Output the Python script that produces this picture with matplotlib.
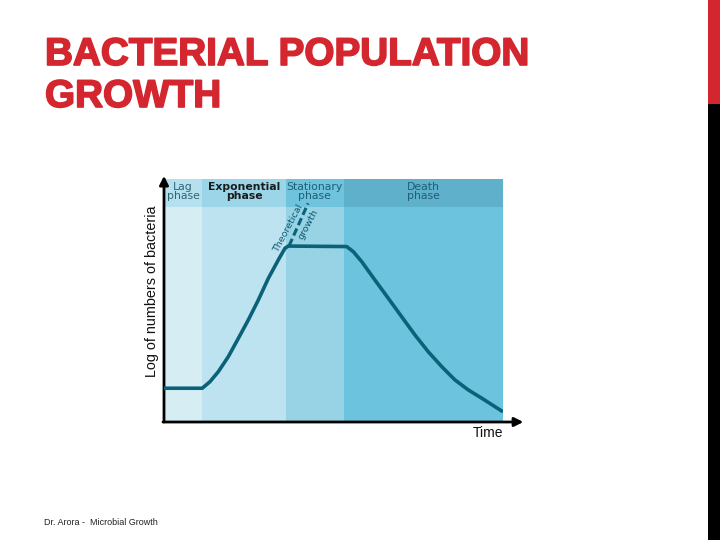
import matplotlib
matplotlib.use("Agg")
import matplotlib.pyplot as plt
import matplotlib.patheffects as pe
import numpy as np

# ---- data ----
phase_names = ["Lag\nphase", "Exponential\nphase", "Stationary\nphase", "Death\nphase"]
phase_edges = [0.0, 11.3, 35.9, 53.1, 100.0]
body_colors = ["#d6edf4", "#bde3f0", "#97d2e5", "#6cc3dd"]
head_colors = ["#b7e0ee", "#9dd5e8", "#6fc3dd", "#5eb0cb"]
header_bottom = 8.85
y_top = 10.0

time = [0.0, 11.3, 13.57, 16.02, 18.97, 21.92, 24.87, 27.82, 30.77, 33.72, 35.69, 36.67,
        53.89, 55.84, 58.32, 62.24, 66.17, 70.12, 74.04, 77.96, 81.92, 85.84, 89.76,
        93.72, 97.64, 100.0]
log_n = [1.39, 1.39, 1.66, 2.07, 2.69, 3.44, 4.20, 5.02, 5.91, 6.67, 7.15, 7.24,
         7.22, 7.01, 6.60, 5.84, 5.09, 4.33, 3.58, 2.89, 2.28, 1.73, 1.32,
         0.98, 0.63, 0.42]
theory_t = [36.9, 42.5]
theory_y = [7.25, 9.0]

W, H = 720, 540
fig = plt.figure(figsize=(7.2, 5.4), dpi=100)
fig.patch.set_facecolor("white")

# right decorative bar
bar_ax = fig.add_axes([708 / W, 0, 12 / W, 1])
bar_ax.set_xlim(0, 1); bar_ax.set_ylim(0, 1)
bar_ax.axis("off")
bar_ax.bar([0], [104 / H], bottom=1 - 104 / H, width=1, align="edge", color="#d3262e")
bar_ax.bar([0], [1 - 104 / H], bottom=0, width=1, align="edge", color="#000000")

# title
title_color = "#d3262e"
title_lines = ["BACTERIAL POPULATION", "GROWTH"]
heavy = [pe.withStroke(linewidth=1.2, foreground=title_color)]
fs = 27.5
t1 = fig.text(45 / W, 1 - 65 / H, title_lines[0], fontsize=fs, fontweight="bold",
              family="Liberation Sans", color=title_color, va="baseline", ha="left",
              path_effects=heavy)
fig.canvas.draw()
w = t1.get_window_extent().width
fs = fs * 484 / w
t1.set_fontsize(fs)
fig.text(45 / W, 1 - 107 / H, title_lines[1], fontsize=fs, fontweight="bold",
         family="Liberation Sans", color=title_color, va="baseline", ha="left",
         path_effects=heavy)

# footer
fig.text(44 / W, 1 - 525 / H, "Dr. Arora -  Microbial Growth", fontsize=6.5,
         family="Liberation Sans", color="#222222", va="baseline", ha="left")

# main chart
ax = fig.add_axes([164 / W, (H - 422) / H, 339 / W, 243 / H])
ax.set_xlim(0, 100)
ax.set_ylim(0, 10)
for s in ax.spines.values():
    s.set_visible(False)
ax.set_xticks([]); ax.set_yticks([])
ax.patch.set_alpha(0)

lefts = phase_edges[:-1]
widths = np.diff(phase_edges)
ax.bar(lefts, [header_bottom] * 4, width=widths, align="edge", color=body_colors, lw=0)
ax.bar(lefts, [y_top - header_bottom] * 4, bottom=header_bottom, width=widths,
       align="edge", color=head_colors, lw=0)

label_colors = ["#2b6478", "#1a1a1a", "#1f5e74", "#1f5e74"]
weights = ["normal", "bold", "normal", "normal"]
for i, name in enumerate(phase_names):
    cx = (phase_edges[i] + phase_edges[i + 1]) / 2
    ax.text(cx, (header_bottom + y_top) / 2 + 0.05, name, ha="center", va="center",
            fontsize=7.8, family="DejaVu Sans", color=label_colors[i],
            fontweight=weights[i], linespacing=0.85)

ax.plot(time, log_n, color="#0b6278", lw=2.6, solid_joinstyle="round",
        solid_capstyle="butt", zorder=5)
ax.plot(theory_t, theory_y, color="#0b6278", lw=2.2, ls=(0, (2.5, 1.2)), zorder=5)
ax.text(36.8, 7.95, "Theoretical", rotation=62, fontsize=6.8, color="#0b5a70",
        ha="center", va="center", family="DejaVu Sans", rotation_mode="anchor")
ax.text(42.6, 8.15, "growth", rotation=62, fontsize=6.8, color="#0b5a70",
        ha="center", va="center", family="DejaVu Sans", rotation_mode="anchor")

# axes with arrows
ax.annotate("", xy=(0, 1.013), xytext=(0, 0), xycoords="axes fraction",
            arrowprops=dict(arrowstyle="-|>", lw=2, color="black",
                            mutation_scale=13, shrinkA=0, shrinkB=0), annotation_clip=False)
ax.annotate("", xy=(1.06, 0), xytext=(-0.003, 0), xycoords="axes fraction",
            arrowprops=dict(arrowstyle="-|>", lw=2, color="black",
                            mutation_scale=13, shrinkA=0, shrinkB=0), annotation_clip=False)

ax.set_ylabel("Log of numbers of bacteria", fontsize=10.4, family="Liberation Sans",
              color="#111111")
ax.yaxis.set_label_coords(-0.014, 0.537)
ax.text(0.955, -0.045, "Time", transform=ax.transAxes, fontsize=10,
        family="Liberation Sans", ha="center", va="center", color="#111111")

fig.savefig("out.png", dpi=100)
